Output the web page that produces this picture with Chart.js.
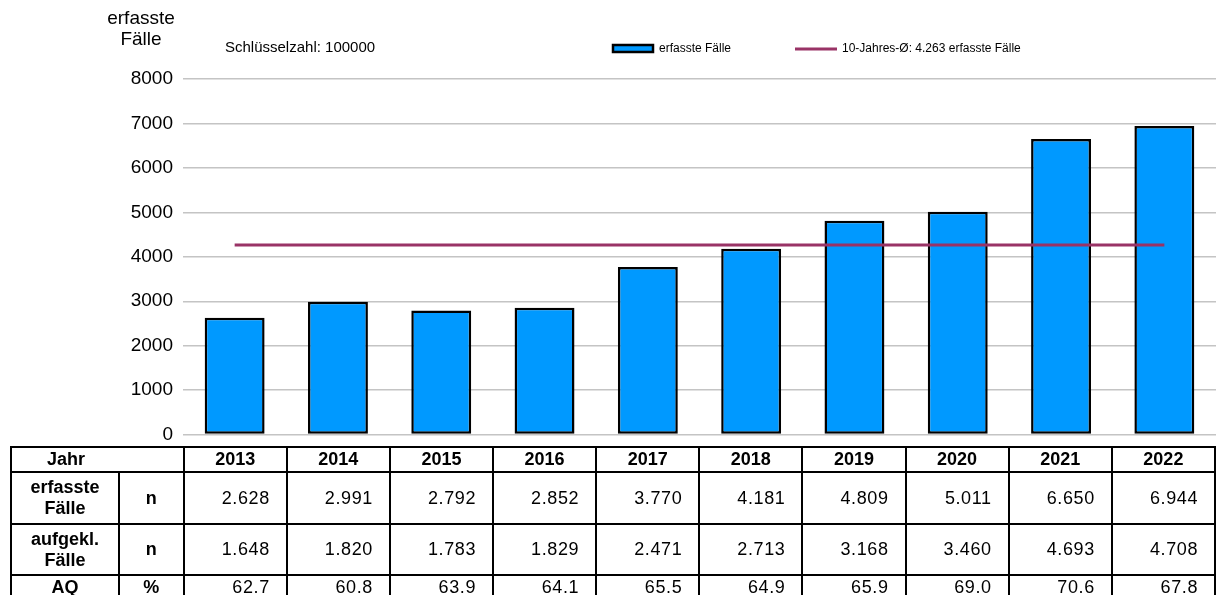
<!DOCTYPE html>
<html>
<head>
<meta charset="utf-8">
<script src="https://cdn.jsdelivr.net/npm/chart.js@4"></script>
<style>
  html, body { margin: 0; padding: 0; background: #fff; overflow: hidden; }
  body { width: 1216px; height: 595px; position: relative; font-family: Arial, "Liberation Sans", sans-serif; }
  #chartBox { position: absolute; left: 0; top: 0; width: 1216px; height: 456px; }
  #dataTable {
    position: absolute; left: 10px; top: 446px;
    border-collapse: collapse; table-layout: fixed;
    font-family: Arial, "Liberation Sans", sans-serif; font-size: 18px; color: #000;
  }
  #dataTable td { border: 2px solid #000; padding: 0; line-height: 21px; }
  #dataTable .num { text-align: right; padding-right: 16px; letter-spacing: 0.6px; }
  #dataTable .head { font-weight: bold; text-align: center; }
</style>
</head>
<body>
<div id="chartBox"><canvas id="crimeChart" width="1216" height="456"></canvas></div>
<table id="dataTable"></table>

<script>
// data
const years = ['2013', '2014', '2015', '2016', '2017', '2018', '2019', '2020', '2021', '2022'];
const erfasst = [2628, 2991, 2792, 2852, 3770, 4181, 4809, 5011, 6650, 6944];
const aufgeklaert = [1648, 1820, 1783, 1829, 2471, 2713, 3168, 3460, 4693, 4708];
const aq = [62.7, 60.8, 63.9, 64.1, 65.5, 64.9, 65.9, 69.0, 70.6, 67.8];
const average = 4263;
const yTicks = [0, 1000, 2000, 3000, 4000, 5000, 6000, 7000, 8000];

const FONT = 'Arial, "Liberation Sans", sans-serif';

function fmt(n) {
    return String(n).replace(/\B(?=(\d{3})+(?!\d))/g, '.');
}

// header text + legend drawn on the canvas
const headerPlugin = {
    id: 'header',
    afterDraw(chart) {
        const ctx = chart.ctx;
        ctx.save();
        ctx.fillStyle = '#000';
        ctx.textBaseline = 'middle';

        ctx.font = '19px ' + FONT;
        ctx.textAlign = 'center';
        ctx.fillText('erfasste', 141, 19);
        ctx.fillText('Fälle', 141, 40);

        ctx.textAlign = 'left';
        ctx.font = '15px ' + FONT;
        ctx.fillText('Schlüsselzahl: 100000', 225, 48);

        // legend
        ctx.font = '12px ' + FONT;
        ctx.fillStyle = '#0099FF';
        ctx.strokeStyle = '#000';
        ctx.lineWidth = 2.5;
        ctx.fillRect(613, 45, 40, 7);
        ctx.strokeRect(613, 45, 40, 7);
        ctx.fillStyle = '#000';
        ctx.fillText(chart.data.datasets[1].label, 659, 49);

        ctx.strokeStyle = '#993366';
        ctx.lineWidth = 3;
        ctx.beginPath();
        ctx.moveTo(795, 49);
        ctx.lineTo(837, 49);
        ctx.stroke();
        ctx.fillText(chart.data.datasets[0].label, 842, 49);
        ctx.restore();
    }
};

const ctx = document.getElementById('crimeChart').getContext('2d');
const crimeChart = new Chart(ctx, {
    type: 'bar',
    data: {
        labels: years,
        datasets: [
            {
                type: 'line',
                label: '10-Jahres-Ø: 4.263 erfasste Fälle',
                data: years.map(() => average),
                borderColor: '#993366',
                borderWidth: 3,
                pointRadius: 0,
                order: 0
            },
            {
                type: 'bar',
                label: 'erfasste Fälle',
                data: erfasst,
                backgroundColor: '#0099FF',
                borderColor: '#000',
                borderWidth: 2.5,
                borderSkipped: false,
                barPercentage: 0.58,
                categoryPercentage: 1,
                order: 1
            }
        ]
    },
    options: {
        responsive: false,
        animation: false,
        devicePixelRatio: 1,
        layout: { padding: { top: 79, bottom: 4, left: 0, right: 0 } },
        plugins: {
            legend: { display: false },
            tooltip: { enabled: false }
        },
        scales: {
            x: { display: false, offset: true },
            y: {
                min: yTicks[0],
                max: yTicks[yTicks.length - 1],
                afterBuildTicks(scale) { scale.ticks = yTicks.map(v => ({ value: v })); },
                afterFit(scale) { scale.width = 183; },
                ticks: {
                    color: '#000',
                    padding: 10,
                    font: { size: 19, family: FONT },
                    callback: v => String(v)
                },
                grid: { color: '#c4c4c4', lineWidth: 1.5, drawTicks: false },
                border: { display: false }
            }
        }
    },
    plugins: [headerPlugin]
});

// table under the chart, built from the same arrays
function buildTable() {
    const t = document.getElementById('dataTable');
    let html = '<colgroup><col style="width:108px"><col style="width:65px">';
    years.forEach(() => { html += '<col style="width:103.3px">'; });
    html += '</colgroup>';

    html += '<tr style="height:25px"><td colspan="2" class="head" style="text-align:left;padding-left:35px">Jahr</td>';
    years.forEach(y => { html += '<td class="head">' + y + '</td>'; });
    html += '</tr>';

    html += '<tr style="height:52px"><td class="head">erfasste<br>Fälle</td><td class="head">n</td>';
    erfasst.forEach(v => { html += '<td class="num">' + fmt(v) + '</td>'; });
    html += '</tr>';

    html += '<tr style="height:51px"><td class="head">aufgekl.<br>Fälle</td><td class="head">n</td>';
    aufgeklaert.forEach(v => { html += '<td class="num">' + fmt(v) + '</td>'; });
    html += '</tr>';

    html += '<tr style="height:25px"><td class="head">AQ</td><td class="head">%</td>';
    aq.forEach(v => { html += '<td class="num">' + v.toFixed(1) + '</td>'; });
    html += '</tr>';

    t.innerHTML = html;
}
buildTable();
</script>
</body>
</html>
